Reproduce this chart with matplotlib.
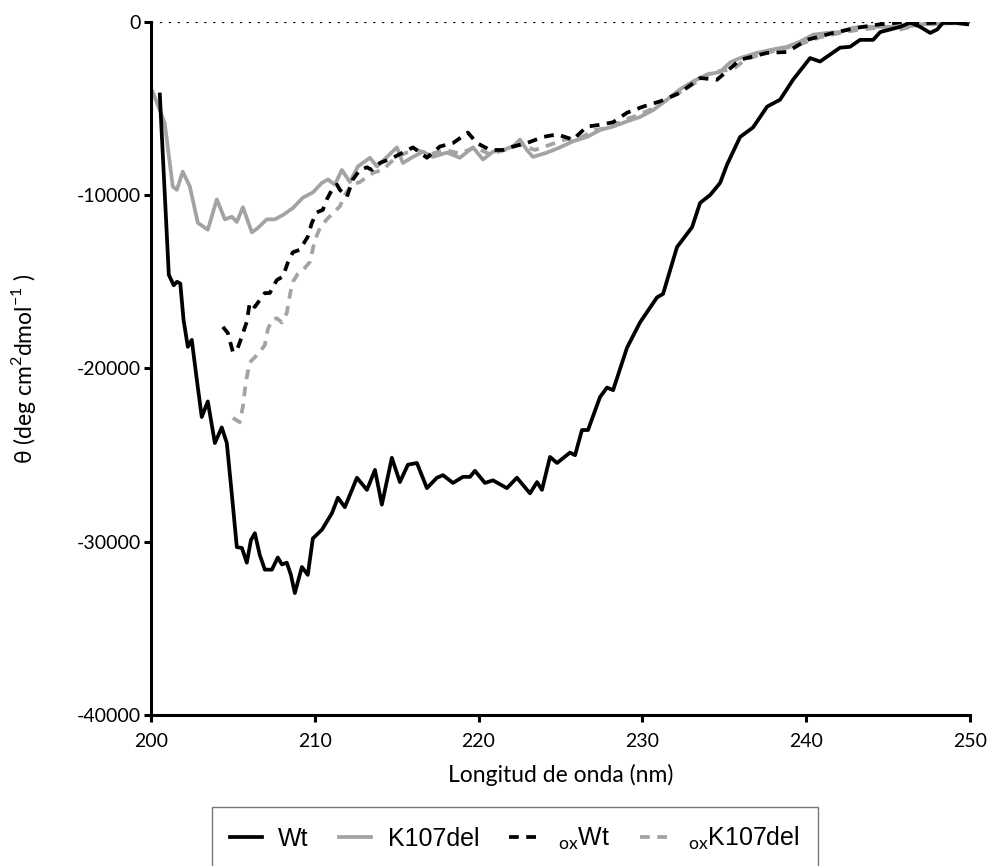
"""
CD spectra: Wt, K107del and their oxidised forms.
"""

import matplotlib.pyplot as plt

plt.rcParams["font.family"] = ["Lato", "DejaVu Sans"]
plt.rcParams["mathtext.fontset"] = "custom"
plt.rcParams["mathtext.rm"] = "Lato"

# wavelength (nm) / ellipticity (deg cm2 dmol-1)
wt_nm = [200.55, 201.1, 201.4, 201.6, 201.8, 202.0, 202.26, 202.5, 202.81, 203.11,
         203.48, 203.91, 204.33, 204.64, 204.95, 205.25, 205.56, 205.86, 206.11, 206.35,
         206.65, 206.96, 207.39, 207.75, 208.0, 208.3, 208.55, 208.79, 209.22, 209.58,
         209.89, 210.44, 211.05, 211.42, 211.84, 212.58, 213.19, 213.68, 214.1, 214.71,
         215.2, 215.69, 216.24, 216.85, 217.46, 217.83, 218.44, 219.05, 219.48, 219.78,
         220.39, 220.88, 221.73, 222.34, 223.14, 223.57, 223.87, 224.36, 224.79, 225.58,
         225.89, 226.31, 226.68, 227.41, 227.84, 228.21, 229.06, 229.85, 230.89, 231.26,
         232.11, 233.03, 233.52, 234.13, 234.74, 235.16, 235.96, 236.75, 237.61, 238.4,
         239.19, 240.23, 240.84, 241.45, 242.06, 242.67, 243.28, 244.08, 244.51, 245.12,
         245.73, 246.34, 246.95, 247.56, 247.99, 248.35, 248.96, 249.82]
wt_val = [-4200, -14600, -15200, -15000, -15100, -17200, -18750, -18350, -20650, -22800,
          -21900, -24300, -23400, -24300, -27300, -30300, -30350, -31200, -29900, -29500,
          -30750, -31600, -31600, -30900, -31300, -31200, -31900, -32950, -31450, -31900,
          -29800, -29300, -28350, -27450, -28000, -26300, -27000, -25850, -27850, -25150,
          -26550, -25550, -25450, -26900, -26300, -26150, -26600, -26250, -26250, -25900,
          -26600, -26450, -26900, -26300, -27200, -26550, -27000, -25100, -25450, -24850,
          -25000, -23550, -23550, -21650, -21100, -21250, -18800, -17350, -15900, -15700,
          -13000, -11850, -10450, -10000, -9300, -8250, -6650, -6100, -4900, -4500,
          -3350, -2100, -2300, -1900, -1500, -1450, -1050, -1050, -600, -450,
          -300, -50, -300, -650, -450, -50, -50, -150]

k107_nm = [200.12, 200.85, 201.34, 201.59, 201.95, 202.38, 202.87, 203.48, 204.03, 204.52,
           204.95, 205.25, 205.62, 206.17, 206.53, 207.08, 207.57, 208.06, 208.67, 209.28,
           209.89, 210.44, 210.81, 211.23, 211.66, 212.15, 212.64, 213.37, 213.8, 214.41,
           215.02, 215.38, 216.0, 216.61, 217.22, 218.07, 218.86, 219.66, 220.27, 220.88,
           221.49, 222.1, 222.53, 222.95, 223.32, 224.18, 224.97, 225.76, 226.62, 227.41,
           228.21, 229.06, 229.85, 230.65, 231.5, 232.3, 233.09, 233.94, 234.74, 235.35,
           235.96, 237.0, 237.97, 238.83, 239.62, 240.42, 241.27, 242.06, 242.86, 243.71,
           244.51, 245.3, 246.15, 246.95, 247.74, 248.6, 249.57]
k107_val = [-4050, -5850, -9500, -9700, -8650, -9500, -11600, -12000, -10250, -11400,
            -11250, -11550, -10700, -12150, -11900, -11400, -11400, -11150, -10750, -10150,
            -9850, -9300, -9100, -9400, -8550, -9250, -8350, -7850, -8350, -7800,
            -7250, -8150, -7800, -7500, -7800, -7550, -7850, -7250, -7950, -7500,
            -7400, -7200, -6800, -7400, -7800, -7550, -7250, -6900, -6650, -6250,
            -6050, -5750, -5500, -5100, -4500, -3900, -3450, -3050, -2900, -2350,
            -2100, -1800, -1600, -1450, -1150, -750, -650, -600, -350, -300,
            -300, -300, -300, -150, -150, -100, -100]

ox_wt_nm = [204.4, 204.7, 205.01, 205.25, 205.43, 205.86, 206.04, 206.35, 206.65, 206.96,
            207.26, 207.69, 208.06, 208.36, 208.67, 209.1, 209.58, 209.83, 210.13, 210.5,
            210.74, 211.05, 211.36, 211.54, 211.97, 212.33, 212.76, 213.19, 213.49, 213.98,
            214.77, 215.38, 216.0, 216.85, 217.64, 218.44, 219.35, 219.9, 220.7, 221.49,
            222.1, 222.95, 223.93, 224.79, 225.76, 226.62, 227.41, 228.21, 229.06, 230.04,
            231.07, 232.3, 233.52, 234.55, 235.96, 237.61, 238.83, 240.05, 241.64, 243.1,
            244.51, 245.73, 246.95, 248.17, 249.82]
ox_wt_val = [-17600, -17950, -19050, -18950, -18500, -17300, -16200, -16450, -16050, -15650,
             -15650, -14900, -14700, -13900, -13300, -13150, -12400, -11600, -11000, -10850,
             -10250, -9700, -9400, -9700, -10100, -9100, -8550, -8400, -8550, -8150,
             -7850, -7550, -7250, -7850, -7200, -7000, -6400, -7000, -7400, -7400,
             -7200, -7000, -6650, -6500, -6800, -6050, -5950, -5800, -5250, -4900,
             -4600, -4100, -3250, -3350, -2200, -1800, -1750, -1050, -650, -350,
             -150, -50, -100, -50, -100]

ox_k107_nm = [205.01, 205.43, 205.62, 205.74, 205.86, 206.04, 206.35, 206.65, 206.96, 207.14,
              207.39, 207.69, 208.0, 208.3, 208.49, 208.67, 208.97, 209.4, 209.71, 210.01,
              210.32, 210.74, 211.17, 211.54, 211.84, 212.27, 212.76, 213.19, 213.61, 214.16,
              214.59, 215.02, 215.63, 216.24, 217.03, 217.95, 218.86, 219.78, 220.7, 221.61,
              222.53, 223.45, 224.36, 225.28, 226.19, 227.11, 228.02, 228.94, 229.85, 230.77,
              231.69, 232.6, 233.52, 234.25, 235.53, 236.26, 237.18, 238.4, 239.62, 240.84,
              242.06, 243.28, 244.51, 245.73, 246.34]
ox_k107_val = [-22850, -23100, -22200, -21250, -20500, -19650, -19350, -19050, -18650, -17750,
               -17200, -17100, -17350, -16800, -15750, -15000, -14550, -14200, -13850, -12600,
               -11900, -11400, -11000, -10650, -10000, -9400, -9250, -8950, -8700, -8550,
               -8150, -7800, -7550, -7400, -7650, -7400, -7600, -7250, -7650, -7400,
               -7100, -7400, -7100, -6800, -6700, -6250, -6100, -5650, -5350, -4950,
               -4400, -3900, -3350, -2900, -2750, -2200, -1900, -1600, -1300, -900,
               -650, -450, -350, -450, -300]

x_ticks = [200, 210, 220, 230, 240, 250]
y_ticks = [0, -10000, -20000, -30000, -40000]

GREY = "#a3a3a3"

fig, ax = plt.subplots(figsize=(9.92, 8.66), dpi=100)
fig.subplots_adjust(left=0.152, right=0.978, top=0.975, bottom=0.174)

ax.axhline(0, color="black", lw=1.6, linestyle=(0, (1, 3)), zorder=1)

ax.plot(wt_nm, wt_val, color="black", lw=2.7, label="Wt", zorder=3)
ax.plot(k107_nm, k107_val, color=GREY, lw=2.7, label="K107del", zorder=2)
ax.plot(ox_wt_nm, ox_wt_val, color="black", lw=2.7, linestyle=(0, (2.6, 2.0)),
        label=r"$_{\mathrm{ox}}$Wt", zorder=4)
ax.plot(ox_k107_nm, ox_k107_val, color=GREY, lw=2.7, linestyle=(0, (2.6, 2.0)),
        label=r"$_{\mathrm{ox}}$K107del", zorder=2)

ax.set_xlim(200, 250)
ax.set_ylim(-40000, 0)
ax.set_xticks(x_ticks)
ax.set_yticks(y_ticks)
ax.set_yticklabels([str(v) for v in y_ticks])

for side in ("top", "right"):
    ax.spines[side].set_visible(False)
for side in ("left", "bottom"):
    ax.spines[side].set_linewidth(2.2)
ax.tick_params(direction="out", length=5, width=2.2, labelsize=14, pad=2)
ax.tick_params(axis="x", pad=8)

ax.set_xlabel("Longitud de onda (nm)", fontsize=16.5, labelpad=10)
ax.set_ylabel(r"θ (deg cm$^{2}$dmol$^{-1}$ )", fontsize=16.5, labelpad=28)

leg = fig.legend(loc="upper center", bbox_to_anchor=(0.519, 0.068), ncol=4,
                 frameon=True, fancybox=False, edgecolor="#555555",
                 prop={"family": ["Liberation Sans", "DejaVu Sans"], "size": 18},
                 handlelength=1.3, handletextpad=0.65, columnspacing=1.2,
                 borderpad=0.72, borderaxespad=0.0)
leg.get_frame().set_linewidth(1.0)
leg._legend_box.sep = 0
for t in leg.get_texts():
    t.set_fontfamily(["Liberation Sans", "DejaVu Sans"])

fig.savefig("out.png", dpi=100)
